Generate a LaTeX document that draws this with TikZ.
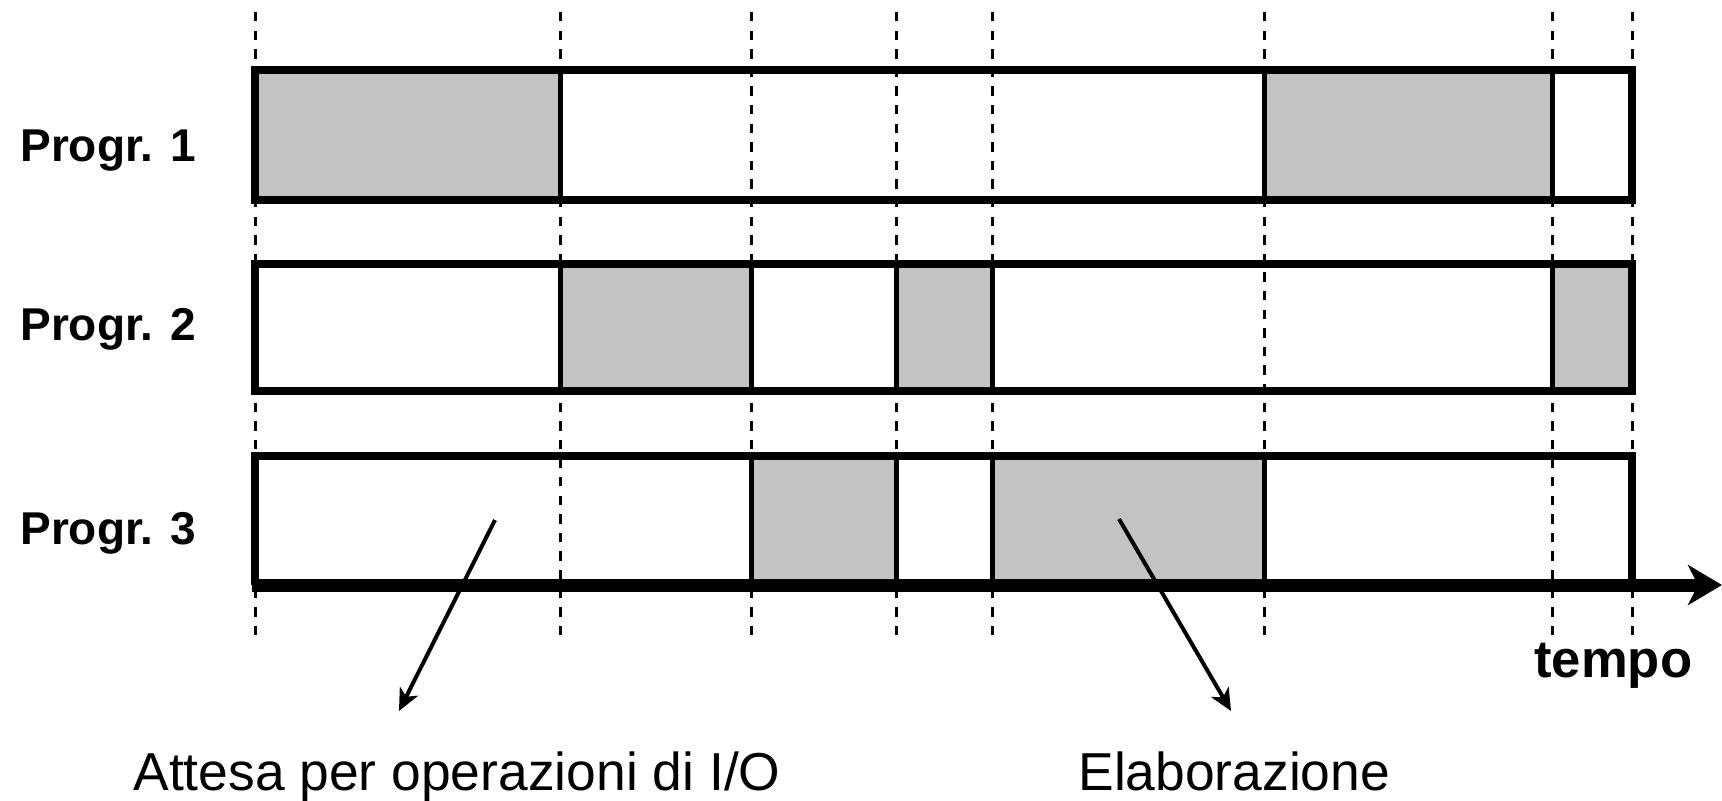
\documentclass[tikz,border=0pt]{standalone}
\usepackage{fontspec}
\setmainfont{Liberation Sans}
\usetikzlibrary{arrows.meta}
\definecolor{segfill}{RGB}{195,195,195}
\tikzset{
  busy/.style={fill=segfill, draw=black, line width=2.5pt},
  idle/.style={fill=white, draw=black, line width=2.5pt},
  frame/.style={draw=black, line width=4.2pt, line join=miter},
  guide/.style={draw=black, line width=1.5pt, dash pattern=on 4.7pt off 4.6pt},
  lbl/.style={font=\fontsize{23pt}{28pt}\selectfont\bfseries, anchor=base west, inner sep=0pt},
  captext/.style={font=\fontsize{26.7pt}{30pt}\selectfont, anchor=base west, inner sep=0pt},
  pointer/.style={draw=black, line width=2pt, -{Stealth[length=11pt,width=10pt,inset=3pt]}},
  axisline/.style={draw=black, line width=6.5pt, -{Stealth[length=17pt,width=20pt,inset=5pt]}}
}
\begin{document}
\begin{tikzpicture}[x=0.5pt,y=-0.5pt]
\useasboundingbox (0,0) rectangle (1722,800);
% row 1
\path[busy] (255,70) rectangle (560,200);
\path[idle] (560,70) rectangle (1264,200);
\path[busy] (1264,70) rectangle (1552,200);
\path[idle] (1552,70) rectangle (1632,200);
% row 2
\path[idle] (255,264) rectangle (560,391);
\path[busy] (560,264) rectangle (751,391);
\path[idle] (751,264) rectangle (896,391);
\path[busy] (896,264) rectangle (992,391);
\path[idle] (992,264) rectangle (1552,391);
\path[busy] (1552,264) rectangle (1632,391);
% row 3
\path[idle] (255,456) rectangle (751,585);
\path[busy] (751,456) rectangle (896,585);
\path[idle] (896,456) rectangle (992,585);
\path[busy] (992,456) rectangle (1264,585);
\path[idle] (1264,456) rectangle (1632,585);
% guides
\foreach \gx in {255,560,751,896,992,1264,1552,1632}
  \path[guide] (\gx,12) -- (\gx,636);
% frames
\path[frame] (255,70) rectangle (1632,200);
\path[frame] (255,264) rectangle (1632,391);
\path[frame] (255,585) |- (1632,456) -- (1632,585);
% axis
\coordinate (ax0) at (252,585);
\coordinate (ax1) at (1722,585);
\path[axisline] (ax0) -- (ax1);
% labels
\node[lbl] (p1) at (20,161) {Progr. 1};
\node[lbl] (p2) at (20,340) {Progr. 2};
\node[lbl] (p3) at (20,544) {Progr. 3};
\node[lbl, font=\fontsize{26.3pt}{30pt}\selectfont\bfseries] (tempo) at (1534,677) {tempo};
\node[captext] (attesa) at (133,790) {Attesa per operazioni di I/O};
\node[captext] (elab) at (1078,790) {Elaborazione};
% pointers
\coordinate (a1s) at (495,520);
\coordinate (a1e) at (399,711);
\coordinate (a2s) at (1119,519);
\coordinate (a2e) at (1231,711);
\path[pointer] (a1s) -- (a1e);
\path[pointer] (a2s) -- (a2e);
\end{tikzpicture}
\end{document}
